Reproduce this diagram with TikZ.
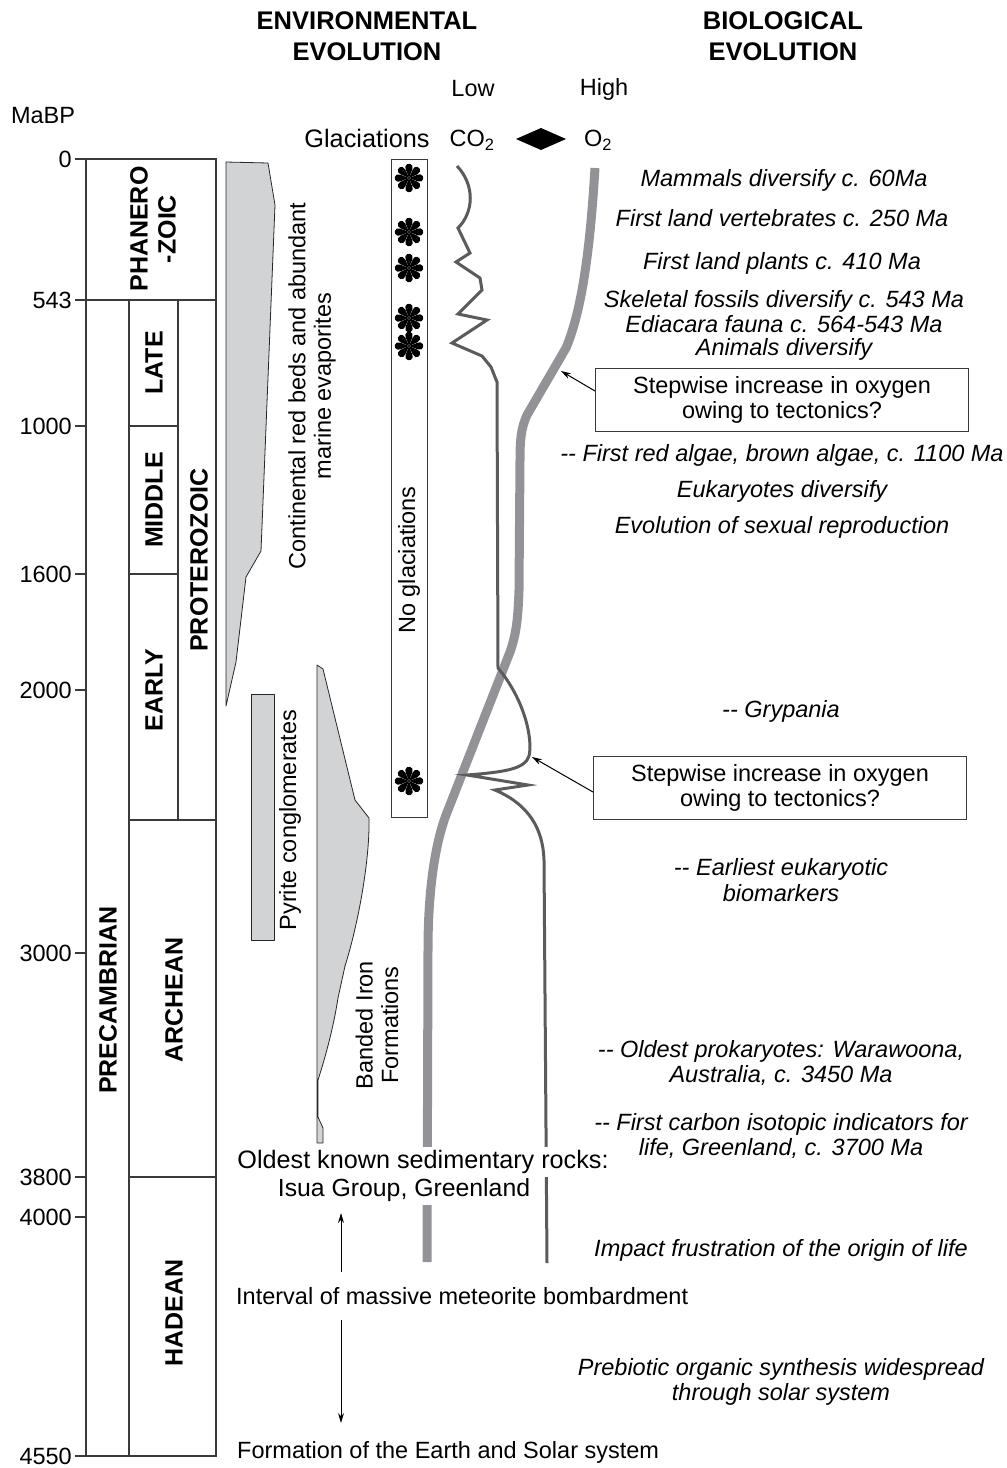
\documentclass[tikz,border=0pt]{standalone}
\usepackage{fontspec}
\setmainfont{Liberation Sans}
\usetikzlibrary{arrows.meta}
\definecolor{shade}{HTML}{D2D3D5}
\definecolor{otwo}{HTML}{939397}
\definecolor{cotwo}{HTML}{5B5B5E}
\definecolor{frame}{HTML}{3A3A3A}
\tikzset{
  glac/.pic={\foreach \a in {0,45,...,315}{\fill[rotate=\a] (0,0) .. controls (0.9,4.2) .. (3.3,8.6) arc[start angle=-30,end angle=210,radius=3.8] .. controls (-0.9,4.2) .. (0,0) -- cycle;}}
}
\begin{document}
\begin{tikzpicture}[x=1pt,y=-1pt,
  txt/.style={font=\fontsize{23.5}{25.5}\selectfont, inner sep=0pt, align=center},
  itx/.style={font=\itshape\fontsize{23.5}{25.5}\selectfont, inner sep=0pt, align=center},
  bld/.style={font=\bfseries\fontsize{25}{28}\selectfont, inner sep=0pt, align=center},
  colline/.style={draw=frame, line width=1.1pt},
  deposit/.style={fill=shade, draw=black!85, line width=0.8pt, line join=round},
  otwoline/.style={draw=otwo, line width=9pt},
  cotwoline/.style={draw=cotwo, line width=3pt, line join=miter},
  callout/.style={draw=frame, line width=1pt, minimum width=373pt, minimum height=63pt, inner sep=0pt, font=\fontsize{23.5}{25.5}\selectfont, align=center},
  pointer/.style={draw=black, line width=1pt, -{Stealth[length=10pt,width=6pt]}},
  blank/.style={fill=white, inner xsep=1pt, inner ysep=3pt}
]
\useasboundingbox (0,0) rectangle (1007,1468);

% headings
\node[bld, font=\bfseries\fontsize{25.5}{31}\selectfont] (envh) at (367,36) {ENVIRONMENTAL\\EVOLUTION};
\node[bld, font=\bfseries\fontsize{25.5}{31}\selectfont] (bioh) at (783,36) {BIOLOGICAL\\EVOLUTION};
\node[txt] (mabp) at (43,116) {MaBP};
\node[txt] (low) at (473,89) {Low};
\node[txt] (high) at (604,89) {High};
\node[txt, font=\fontsize{25.3}{27}\selectfont] (glach) at (367,138) {Glaciations};
\node[txt] (co2h) at (472,140) {CO\textsubscript{2}};
\node[txt] (o2h) at (598,140) {O\textsubscript{2}};
\fill (516,139) -- (541,128) -- (566,139) -- (541,150) -- cycle;

% time axis ticks and labels
\foreach \v/\y in {0/159,543/300,1000/426,1600/574,2000/690,3000/953,3800/1177,4000/1217,4550/1456}{
  \draw[colline] (75,\y) -- (86,\y);
  \node[txt, anchor=east] (t\v) at (72,\y) {\v};
}

% column frame
\draw[colline] (86,159) rectangle (216,1456);
\draw[colline] (86,300) -- (216,300);
\draw[colline] (129,300) -- (129,1456);
\draw[colline] (178,300) -- (178,820);
\draw[colline] (129,426) -- (178,426);
\draw[colline] (129,574) -- (178,574);
\draw[colline] (129,820) -- (216,820);
\draw[colline] (129,1177) -- (216,1177);

\node[bld, rotate=90] (phan) at (153,229) {PHANERO\\-ZOIC};
\node[bld, rotate=90] (late) at (154,363) {LATE};
\node[bld, rotate=90] (mid) at (154,500) {MIDDLE};
\node[bld, rotate=90] (early) at (154,690) {EARLY};
\node[bld, rotate=90] (prot) at (199,560) {PROTEROZOIC};
\node[bld, rotate=90] (precam) at (108,1000) {PRECAMBRIAN};
\node[bld, rotate=90] (arch) at (174,1000) {ARCHEAN};
\node[bld, rotate=90] (had) at (174,1313) {HADEAN};

% environmental deposits
\draw[deposit] (226,162) -- (268,163) -- (275,205) -- (261,551) -- (246,577) -- (236,662) -- (226,706) -- cycle;
\draw[deposit] (251,694) rectangle (274,940);
\draw[deposit] (317,665) -- (323,669) -- (355,800) -- (369,818)
  .. controls (370,860) and (358,925) .. (345,966) -- (338,998)
  .. controls (333,1030) and (325,1058) .. (318,1080) -- (318,1117) -- (323,1128) -- (323,1143) -- (317,1143) -- cycle;

\node[txt, rotate=90] (redbeds) at (312,386) {Continental red beds and abundant\\marine evaporites};
\node[txt, rotate=90] (pyrite) at (290,820) {Pyrite conglomerates};
\node[txt, rotate=90] (bif) at (377,1025) {Banded Iron\\Formations};

% glaciations column
\draw[draw=frame, line width=1pt] (391,159) rectangle (427,817);
\node[txt, rotate=90] (noglac) at (409,560) {No glaciations};
\foreach \y in {178,232,268,318,346,781}{ \pic at (409,\y) {glac}; }

% O2 curve
\draw[otwoline] (595,168) .. controls (590,250) and (582,310) .. (566,348) -- (527,415)
  .. controls (521,428) and (520,440) .. (520,460) -- (519,590)
  .. controls (518,620) and (516,635) .. (510,652) -- (446,815)
  .. controls (433,850) and (428,900) .. (428,950) -- (427,1262);

% CO2 curve
\draw[cotwoline] (457,166) .. controls (475,185) and (474,212) .. (458,228) -- (470,253) -- (456,262) -- (480,278) -- (482,290) -- (458,314) -- (487,320) -- (452,343) -- (482,356) -- (491,367) -- (497,382) -- (498,668)
  .. controls (525,700) and (533,740) .. (529,756) .. controls (525,769) and (505,772) .. (467,775) -- (528,785) -- (495,790)
  .. controls (530,805) and (543,830) .. (544,860) -- (547,1263);

\coordinate (hitA) at (561,371);
\coordinate (hitB) at (532,757);

% callouts
\node[callout] (boxA) at (782,400) {Stepwise increase in oxygen\\owing to tectonics?};
\node[callout] (boxB) at (780,788) {Stepwise increase in oxygen\\owing to tectonics?};
\draw[pointer] ([yshift=9pt]boxA.west) -- (hitA);
\draw[pointer] ([yshift=-4pt]boxB.west) -- (hitB);

% biological evolution
\node[itx] (b1) at (784,180) {Mammals diversify c. 60Ma};
\node[itx] (b2) at (782,218) {First land vertebrates c. 250 Ma};
\node[itx] (b3) at (782,263) {First land plants c. 410 Ma};
\node[itx] (b4) at (784,301) {Skeletal fossils diversify c. 543 Ma};
\node[itx] (b5) at (784,324) {Ediacara fauna c. 564-543 Ma};
\node[itx] (b6) at (784,349) {Animals diversify};
\node[itx] (b7) at (782,455) {-\kern0pt - First red algae, brown algae, c. 1100 Ma};
\node[itx] (b8) at (782,491) {Eukaryotes diversify};
\node[itx] (b9) at (782,527) {Evolution of sexual reproduction};
\node[itx] (b10) at (781,711) {-\kern0pt - Grypania};
\node[itx] (b11) at (781,880) {-\kern0pt - Earliest eukaryotic\\biomarkers};
\node[itx] (b12) at (781,1063) {-\kern0pt - Oldest prokaryotes: Warawoona,\\Australia, c. 3450 Ma};
\node[itx] (b13) at (781,1136) {-\kern0pt - First carbon isotopic indicators for\\life, Greenland, c. 3700 Ma};
\node[itx] (b14) at (781,1250) {Impact frustration of the origin of life};
\node[itx] (b15) at (781,1382) {Prebiotic organic synthesis widespread\\through solar system};

% bottom environmental texts
\node[txt, blank, font=\fontsize{25.2}{27}\selectfont] (isua1) at (423,1162) {Oldest known sedimentary rocks:};
\node[txt, blank, font=\fontsize{24.8}{27}\selectfont] (isua2) at (404,1190) {Isua Group, Greenland};
\node[txt, anchor=west] (bomb) at (236,1296) {Interval of massive meteorite bombardment};
\node[txt, anchor=west] (form) at (237,1452) {Formation of the Earth and Solar system};
\coordinate (upA) at (341,1272);
\coordinate (upB) at (341,1213);
\coordinate (dnA) at (341,1320);
\coordinate (dnB) at (341,1423);
\draw[pointer] (upA) -- (upB);
\draw[pointer] (dnA) -- (dnB);
\end{tikzpicture}
\end{document}
